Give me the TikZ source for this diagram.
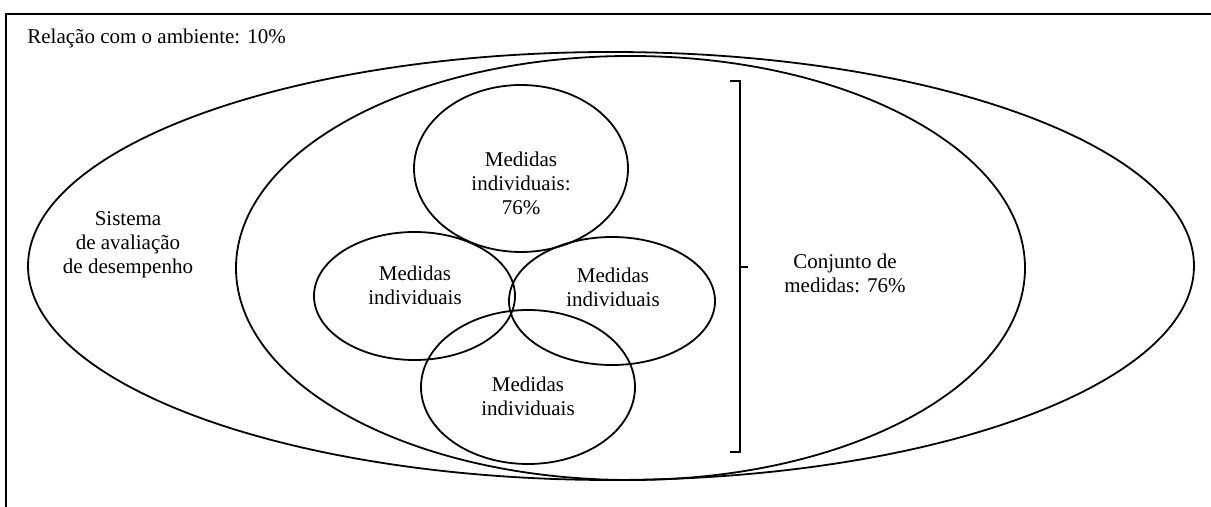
\documentclass[tikz,border=0pt]{standalone}
\usepackage{fontspec}
\setmainfont{Liberation Serif}
\usetikzlibrary{shapes.geometric}
\begin{document}
\begin{tikzpicture}[x=0.5pt,y=-0.5pt,
  outline/.style={ellipse, draw, line width=0.9pt, inner sep=0pt},
  lbl/.style={align=center, font=\fontsize{10.5}{12}\selectfont, inner sep=0pt},
  frameline/.style={line width=1.2pt},
  bracket/.style={line width=0.9pt}]
\useasboundingbox (0,0) rectangle (1211,507);
% frame
\coordinate (fTR) at (1211,14);
\coordinate (fTL) at (6,14);
\coordinate (fBL) at (6,507);
\draw[frameline] (fTR) -- (fTL) -- (fBL);
% ellipses
\node[outline, minimum width=583pt, minimum height=214pt] (outer) at (611,266) {};
\node[outline, minimum width=394.5pt, minimum height=212pt] (inner) at (630.5,268) {};
\node[outline, minimum width=107pt, minimum height=83.5pt] (ctop) at (521,168.5) {};
\node[outline, minimum width=100.5pt, minimum height=64pt] (cleft) at (414.5,296) {};
\node[outline, minimum width=103pt, minimum height=64pt] (cright) at (612,301) {};
\node[outline, minimum width=107pt, minimum height=77pt] (cbottom) at (528,387) {};
% labels
\node[lbl, anchor=west] (env) at (27,38) {Relação com o ambiente: 10\%};
\node[lbl] (sys) at (128,245) {Sistema\\de avaliação\\de desempenho};
\node[lbl] (ttop) at (521,183) {Medidas\\individuais:\\76\%};
\node[lbl] (tleft) at (415,285) {Medidas\\individuais};
\node[lbl] (tright) at (613,287) {Medidas\\individuais};
\node[lbl] (tbottom) at (528,396) {Medidas\\individuais};
\node[lbl] (set) at (845,273) {Conjunto de\\medidas: 76\%};
% bracket
\coordinate (bT0) at (730,81);
\coordinate (bT1) at (740,81);
\coordinate (bB1) at (740,452);
\coordinate (bB0) at (730,452);
\coordinate (bM0) at (740,267);
\coordinate (bM1) at (748,267);
\draw[bracket] (bT0) -- (bT1) -- (bB1) -- (bB0);
\draw[bracket] (bM0) -- (bM1);
\end{tikzpicture}
\end{document}
